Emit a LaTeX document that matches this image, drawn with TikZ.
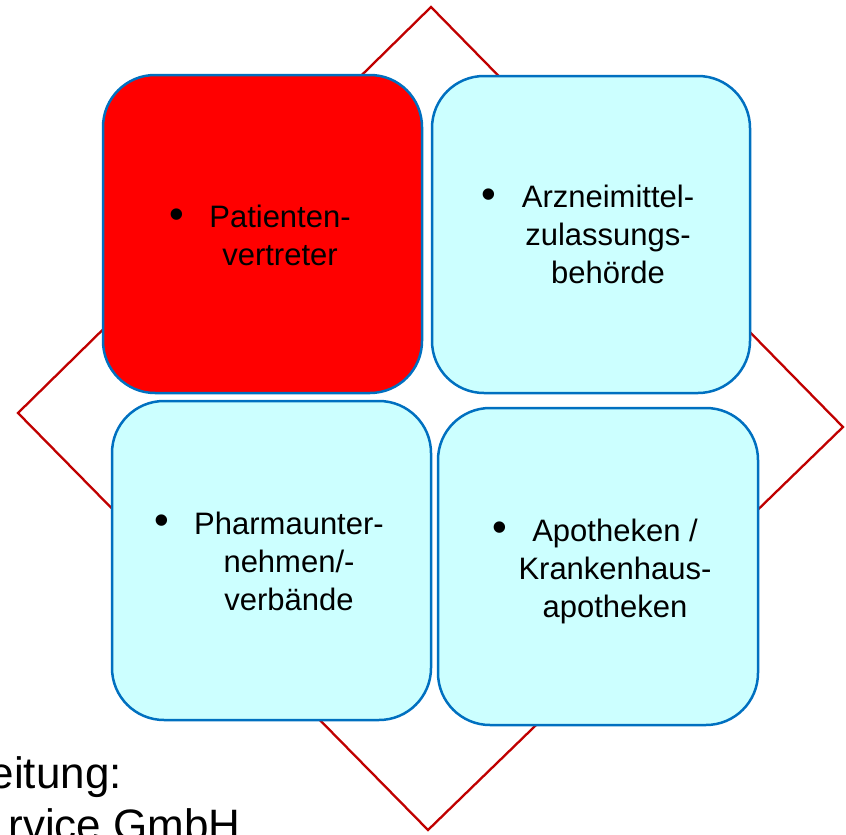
\documentclass[tikz,border=0pt]{standalone}
\usepackage{fontspec}
\setmainfont{Liberation Sans}
\definecolor{boxblue}{RGB}{0,112,192}
\definecolor{boxcyan}{RGB}{204,255,255}
\definecolor{boxred}{RGB}{255,0,0}
\definecolor{diamred}{RGB}{192,0,0}
\tikzset{
  card/.style={draw=boxblue, line width=2.5pt, rounded corners=52pt, fill=boxcyan, inner sep=0pt},
  cardtext/.style={align=center, inner sep=0pt, anchor=base, font=\fontsize{31}{38}\selectfont},
  bul/.style={inner sep=0pt, anchor=base, font=\fontsize{42}{42}\selectfont},
  foottext/.style={inner sep=0pt, anchor=base east, font=\fontsize{44}{52}\selectfont},
  diam/.style={draw=diamred, line width=2.3pt, line join=miter}
}
\begin{document}
\begin{tikzpicture}[x=1pt, y=-1pt]
\useasboundingbox (0,0) rectangle (846,835);
\clip (0,0) rectangle (846,835);
% diamond
\coordinate (dt) at (431,7);
\coordinate (dr) at (843,427);
\coordinate (db) at (428,830);
\coordinate (dl) at (18,413);
\draw[diam] (dt) -- (dr) -- (db) -- (dl) -- cycle;
% boxes
\node[card, fill=boxred, minimum width=319pt, minimum height=318pt] (b1) at (262.5,234) {};
\node[card, minimum width=318pt, minimum height=317pt] (b2) at (591,234.5) {};
\node[card, minimum width=319pt, minimum height=319pt] (b3) at (271.5,560.5) {};
\node[card, minimum width=320pt, minimum height=317pt] (b4) at (598,566.5) {};
% texts (anchor = baseline of last line)
\node[cardtext] (t1) at (280,265) {Patienten-\\vertreter};
\node[bul] (u1) at (177,228.5) {•};
\node[cardtext] (t2) at (608,283) {Arzneimittel-\\zulassungs-\\behörde};
\node[bul] (u2) at (489,208.5) {•};
\node[cardtext] (t3) at (289,610) {Pharmaunter-\\nehmen/-\\verbände};
\node[bul] (u3) at (162,534.5) {•};
\node[cardtext] (t4) at (615,617) {Apotheken /\\Krankenhaus-\\apotheken};
\node[bul] (u4) at (500,541.5) {•};
% footer fragments
\node[foottext] (f1) at (122,788) {eitung:};
\node[foottext] (f2) at (241,840) {rvice GmbH};
\end{tikzpicture}
\end{document}
